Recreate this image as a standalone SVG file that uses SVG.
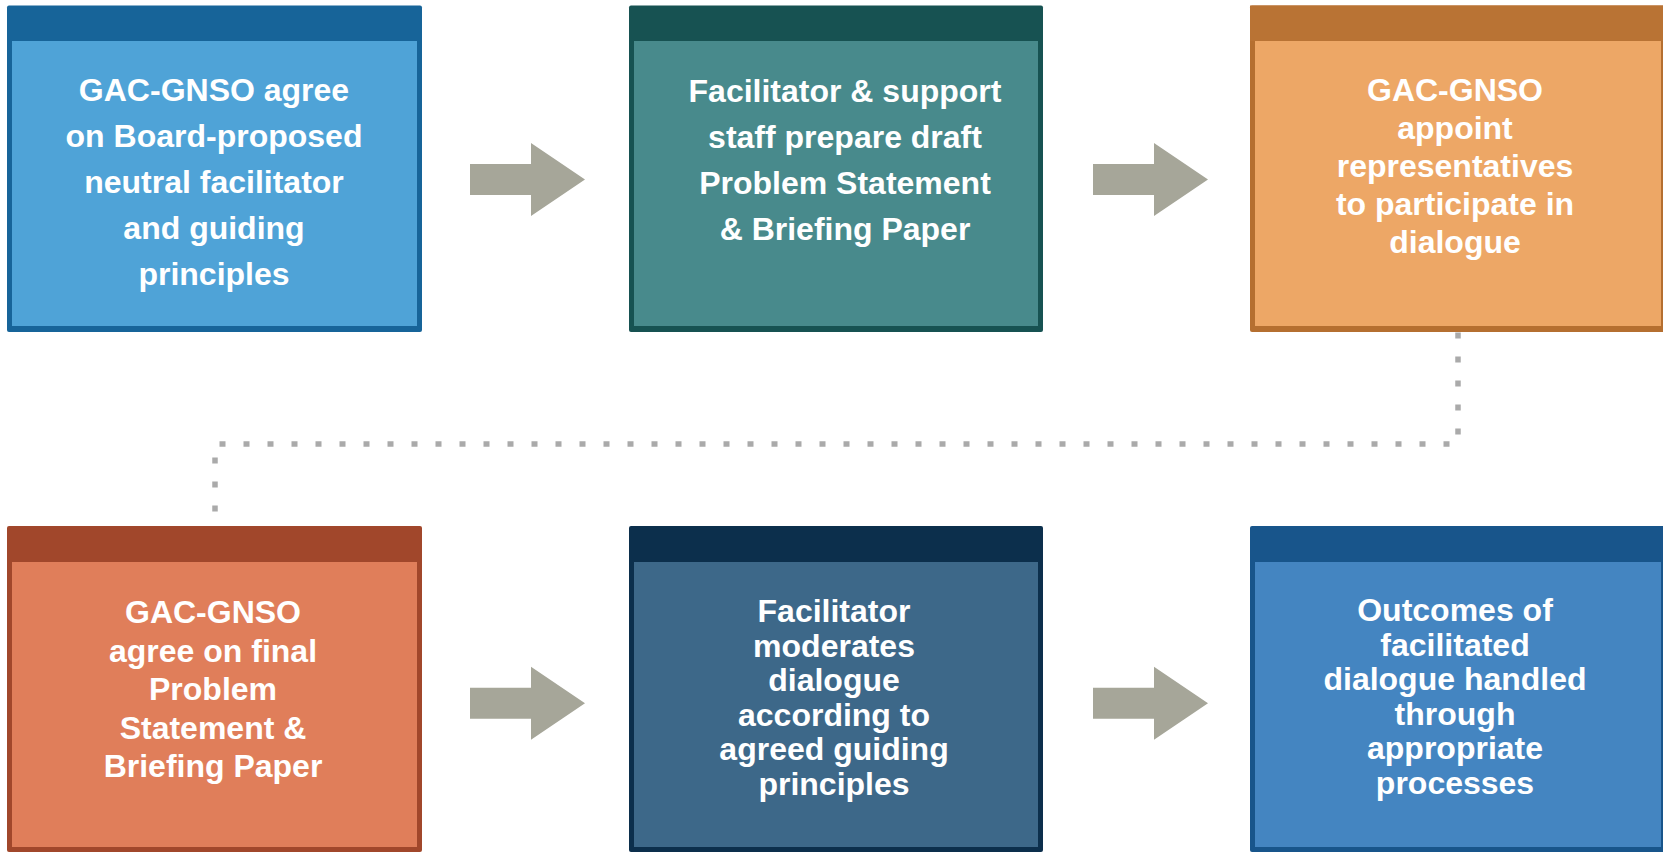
<svg xmlns="http://www.w3.org/2000/svg" width="1663" height="852" viewBox="0 0 1663 852">
<style>
text{font-family:"Liberation Sans",Arial,sans-serif;font-weight:bold;font-size:32px;fill:#ffffff;text-anchor:middle}
.arrow{fill:#a6a699}
.dots{fill:none;stroke:#aaaaaa;stroke-width:5.5;stroke-dasharray:6 18}
</style>
<defs>
<path id="arr" d="M0,-15.5 H61 V-36.5 L115,0 L61,36.5 V15.5 H0 Z"/>
</defs>
<rect width="1663" height="852" fill="#ffffff"/>
<g id="connectors">
<path class="dots" d="M1458,332.5 V444 H215 V511.5"/>
<use href="#arr" class="arrow" x="470" y="179.5"/>
<use href="#arr" class="arrow" x="1093" y="179.5"/>
<use href="#arr" class="arrow" x="470" y="703.3"/>
<use href="#arr" class="arrow" x="1093" y="703.3"/>
</g>
<g id="node1">
<rect x="7" y="5.5" width="415" height="326.5" rx="2" fill="#176499"/>
<rect x="12" y="41" width="405" height="285" fill="#4fa3d7"/>
<text x="214" y="101">GAC-GNSO agree</text>
<text x="214" y="147">on Board-proposed</text>
<text x="214" y="193">neutral facilitator</text>
<text x="214" y="239">and guiding</text>
<text x="214" y="285">principles</text>
</g>
<g id="node2">
<rect x="629" y="5.5" width="414" height="326.5" rx="2" fill="#175252"/>
<rect x="634" y="41" width="404" height="285" fill="#488a8c"/>
<text x="845" y="102">Facilitator &amp; support</text>
<text x="845" y="148">staff prepare draft</text>
<text x="845" y="194">Problem Statement</text>
<text x="845" y="240">&amp; Briefing Paper</text>
</g>
<g id="node3">
<rect x="1250" y="5.5" width="416" height="326.5" rx="2" fill="#b56f30"/>
<rect x="1255" y="41" width="406" height="285" fill="#eda766"/>
<rect x="1250" y="5.5" width="416" height="35.5" fill="#b97334"/>
<text x="1455" y="101">GAC-GNSO</text>
<text x="1455" y="139">appoint</text>
<text x="1455" y="177">representatives</text>
<text x="1455" y="215">to participate in</text>
<text x="1455" y="253">dialogue</text>
</g>
<g id="node4">
<rect x="7" y="526" width="415" height="326" rx="2" fill="#a1472b"/>
<rect x="12" y="562" width="405" height="285" fill="#e07e5a"/>
<text x="213" y="623">GAC-GNSO</text>
<text x="213" y="661.5">agree on final</text>
<text x="213" y="700">Problem</text>
<text x="213" y="738.5">Statement &amp;</text>
<text x="213" y="777">Briefing Paper</text>
</g>
<g id="node5">
<rect x="629" y="526" width="414" height="326" rx="2" fill="#0c2f4c"/>
<rect x="634" y="562" width="404" height="285" fill="#3d6889"/>
<text x="834" y="622">Facilitator</text>
<text x="834" y="656.5">moderates</text>
<text x="834" y="691">dialogue</text>
<text x="834" y="725.5">according to</text>
<text x="834" y="760">agreed guiding</text>
<text x="834" y="794.5">principles</text>
</g>
<g id="node6">
<rect x="1250" y="526" width="416" height="326" rx="2" fill="#18558b"/>
<rect x="1255" y="562" width="406" height="285" fill="#4485c1"/>
<text x="1455" y="621">Outcomes of</text>
<text x="1455" y="655.5">facilitated</text>
<text x="1455" y="690">dialogue handled</text>
<text x="1455" y="724.5">through</text>
<text x="1455" y="759">appropriate</text>
<text x="1455" y="793.5">processes</text>
</g>
</svg>
